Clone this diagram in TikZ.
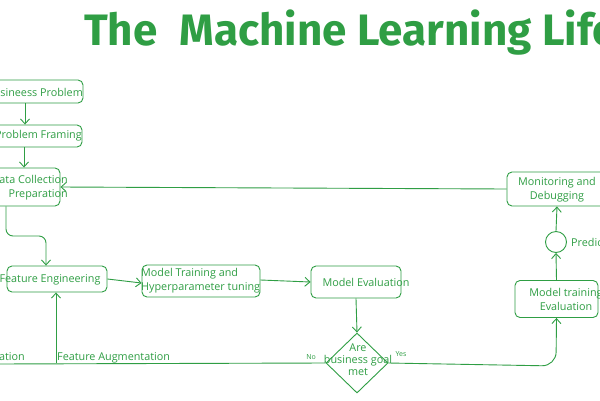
\documentclass[tikz,border=0pt]{standalone}
\usepackage{fontspec}
\setmainfont{Open Sans}
\newfontfamily\titlefont{Fira Sans}
\usetikzlibrary{arrows.meta,shapes.geometric}
\definecolor{exgreen}{RGB}{47,158,68}
\tikzset{
  box/.style={draw=exgreen, line width=0.9pt, rounded corners=5pt, inner sep=0pt},
  arr/.style={draw=exgreen, line width=0.9pt, -{Straight Barb[length=5pt,width=9pt]}},
  ln/.style={draw=exgreen, line width=0.9pt},
  lbl/.style={text=exgreen, font=\fontsize{10.8}{14}\selectfont, inner sep=0pt},
}
\begin{document}
\begin{tikzpicture}[x=1pt,y=-1pt]
\useasboundingbox (0,0) rectangle (600,400);
\clip (0,0) rectangle (600,400);
\fill[white] (0,0) rectangle (600,400);
% title
\node[anchor=base west, text=exgreen, inner sep=0pt, font=\titlefont\bfseries\fontsize{44}{50}\selectfont] (title) at (84,45) {The\hspace{22pt}Machine Learning Lifecycle};
% boxes
\node[box, minimum width=124pt, minimum height=23pt] (biz) at (21,91.5) {};
\node[lbl, anchor=east] (biztxt) at (83,92) {Busineess Problem};
\node[box, minimum width=122pt, minimum height=22pt] (frame) at (21,136) {};
\node[lbl, anchor=east] (frametxt) at (82,136) {Problem Framing};
\node[box, minimum width=100pt, minimum height=38pt] (data) at (10,187) {};
\node[lbl, anchor=east, align=right] (datatxt) at (68,188) {Data Collection\\Preparation};
\node[box, minimum width=100pt, minimum height=26pt] (fe) at (57,279) {};
\node[lbl] (fetxt) at (50,280) {Feature Engineering};
\node[box, minimum width=118pt, minimum height=32pt] (mt) at (201,281) {};
\node[lbl, anchor=west, align=left] (mttxt) at (141,281) {Model Training and\\Hyperparameter tuning};
\node[box, minimum width=90pt, minimum height=32pt] (me) at (356,282) {};
\node[lbl] (metxt) at (366,282) {Model Evaluation};
\node[draw=exgreen, line width=0.9pt, diamond, minimum width=62pt, minimum height=60pt, inner sep=0pt] (goal) at (357,363) {};
\node[lbl, align=center, font=\fontsize{10.8}{12}\selectfont] (goaltxt) at (358,360) {Are\\business goal\\met};
\node[box, minimum width=83pt, minimum height=37pt] (mte) at (556.5,299) {};
\node[lbl, align=center] (mtetxt) at (566,299.5) {Model training\\Evaluation};
\node[draw=exgreen, line width=0.9pt, circle, minimum size=21pt, inner sep=0pt] (pred) at (556,242) {};
\node[lbl, anchor=west] (predtxt) at (571,242) {Prediction};
\node[box, minimum width=100pt, minimum height=34pt] (mon) at (557,189) {};
\node[lbl, align=center] (montxt) at (557,190) {Monitoring and\\Debugging};
% labels
\node[lbl, font=\fontsize{7}{8}\selectfont] (no) at (311,357) {No};
\node[lbl, font=\fontsize{7}{8}\selectfont] (yes) at (401,354) {Yes};
\node[lbl, anchor=base east] (daug) at (25,360) {Data Augmentation};
\node[lbl, anchor=base west] (faug) at (57,360) {Feature Augmentation};
\coordinate (lend) at (-5,364);
% connectors
\draw[arr] ([xshift=4pt]biz.south) -- ([xshift=4pt]frame.north);
\draw[arr] ([xshift=3pt]frame.south) -- ([xshift=14pt]data.north);
\draw[arr, rounded corners=7pt] ([xshift=-4pt]data.south) |- (46,236) -- ([xshift=-11pt]fe.north);
\draw[arr] (fe.east) -- ([yshift=-2pt]mt.west);
\draw[arr] ([yshift=1pt]mt.east) -- (me.west);
\draw[arr] (me.south) -- (goal.north);
\draw[ln] (goal.west) -- (lend);
\draw[arr] ([xshift=-1pt]fe.south |- goal.west) -- ([xshift=-1pt]fe.south);
\draw[arr, rounded corners=14pt] (goal.east) -- (556,366) -- (mte.south);
\draw[arr] (mte.north) -- (pred.south);
\draw[arr] (pred.north) -- (mon.south);
\draw[arr] (mon.west) -- (data.east);
\end{tikzpicture}
\end{document}
